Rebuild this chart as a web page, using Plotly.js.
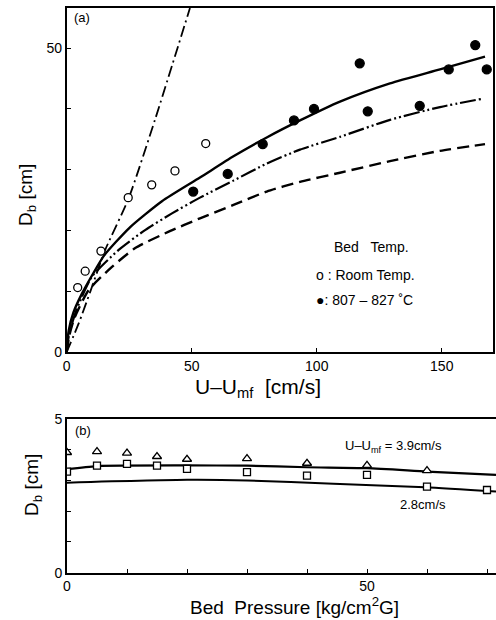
<!DOCTYPE html>
<html>
<head>
<meta charset="utf-8">
<script src="https://cdn.plot.ly/plotly-3.0.1.min.js"></script>
<style>
  html, body { margin: 0; padding: 0; background: #fff; }
  #chart { width: 496px; height: 620px; }
</style>
</head>
<body>
<div id="chart"></div>
<script>
// (a) bubble diameter vs excess gas velocity
const roomTempU  = [4.4, 7.4, 13.7, 24.6, 34.0, 43.3, 55.6];
const roomTempDb = [10.6, 13.3, 16.6, 25.4, 27.5, 29.8, 34.3];

const hotU  = [50.6, 64.4, 78.4, 90.9, 98.9, 117.2, 120.4, 141.2, 152.8, 163.4, 168.0];
const hotDb = [26.4, 29.3, 34.2, 38.1, 40.0, 47.5, 39.6, 40.5, 46.5, 50.5, 46.5];

// correlation curves
const solidU  = [0, 0.8, 2.7, 6.1, 10.7, 15.0, 25.0, 38.1, 53.3, 66.7, 80.0, 93.3, 109.3, 129.3, 149.3, 167.3];
const solidDb = [0, 3.5, 6.5, 9.6, 13.0, 15.9, 20.4, 24.8, 28.7, 32.2, 35.3, 38.1, 41.2, 44.2, 46.5, 48.6];

const dashDotDotU  = [0, 1.0, 4.0, 10.1, 20.8, 31.5, 42.1, 53.3, 66.7, 80.0, 93.3, 109.3, 129.3, 149.3, 166.7];
const dashDotDotDb = [0, 3.0, 7.0, 12.4, 16.8, 20.1, 22.8, 25.4, 28.2, 31.0, 33.3, 35.4, 38.2, 40.3, 41.7];

const dashedU  = [0, 1.0, 3.0, 8.8, 18.1, 27.4, 40.8, 53.3, 66.7, 80.0, 93.3, 109.3, 129.3, 149.3, 167.3];
const dashedDb = [0, 2.6, 5.5, 10.2, 14.0, 17.1, 19.8, 22.0, 24.2, 26.4, 28.0, 29.5, 31.4, 33.1, 34.2];

const steepU  = [0, 4.8, 9.4, 15.4, 24.7, 35.3, 49.3];
const steepDb = [0, 4.7, 9.9, 16.8, 25.2, 38.2, 56.6];

// (b) bubble diameter vs bed pressure
const triP  = [0, 5, 10, 15, 20, 30, 40, 50, 60];
const triDb = [3.91, 3.94, 3.89, 3.78, 3.69, 3.71, 3.56, 3.49, 3.32];

const sqP  = [0, 5, 10, 15, 20, 30, 40, 50, 60, 70];
const sqDb = [3.29, 3.48, 3.54, 3.48, 3.38, 3.27, 3.16, 3.18, 2.80, 2.69];

const upperP  = [0, 5, 20, 30, 40, 50, 60, 71.5];
const upperDb = [3.37, 3.47, 3.49, 3.48, 3.43, 3.40, 3.29, 3.18];

const lowerP  = [0, 20, 30, 44.4, 59.7, 71.5];
const lowerDb = [2.93, 3.02, 3.00, 2.89, 2.78, 2.64];

// labelled ticks and unlabelled (minor) tick marks
const aXTicks = [0, 50, 100, 150];
const aYTicks = [0, 50];
const aYMinor = [10, 20, 30, 40];
const bXTicks = [0, 50];
const bXMinor = [10, 20, 30, 40, 60, 70];
const bYTicks = [0, 5];
const bYMinor = [1, 2, 3, 4];

const FONT = 'Liberation Sans Narrow, Liberation Sans, Arial, sans-serif';
const W = 496, H = 620;
const px = x => x / W;
const py = y => (H - y) / H;

const lineTrace = (x, y, dash, width, xa, ya) => ({
  x, y, type: 'scatter', mode: 'lines', xaxis: xa, yaxis: ya,
  line: { color: '#000', width, dash, shape: 'spline', smoothing: 0.6 },
  hoverinfo: 'skip', showlegend: false
});
const markerTrace = (x, y, symbol, fill, size, xa, ya) => ({
  x, y, type: 'scatter', mode: 'markers', xaxis: xa, yaxis: ya,
  marker: { symbol, size, color: fill, line: { color: '#000', width: 1.3 } },
  showlegend: false
});

const data = [
  lineTrace(steepU, steepDb, '11px,4px,2px,4px', 1.8, 'x', 'y'),
  lineTrace(dashedU, dashedDb, '12px,6px', 2.4, 'x', 'y'),
  lineTrace(dashDotDotU, dashDotDotDb, '16px,3px,2px,3px,2px,3px', 2.2, 'x', 'y'),
  lineTrace(solidU, solidDb, 'solid', 2.4, 'x', 'y'),
  markerTrace(roomTempU, roomTempDb, 'circle', '#fff', 8, 'x', 'y'),
  markerTrace(hotU, hotDb, 'circle', '#000', 9, 'x', 'y'),

  lineTrace(upperP, upperDb, 'solid', 2.2, 'x2', 'y2'),
  lineTrace(lowerP, lowerDb, 'solid', 2.0, 'x2', 'y2'),
  markerTrace(triP, triDb, 'triangle-up', '#fff', 8, 'x2', 'y2'),
  markerTrace(sqP, sqDb, 'square', '#fff', 7, 'x2', 'y2')
];

const axisBase = {
  showgrid: false, zeroline: false, showline: true, mirror: true,
  linecolor: '#000', linewidth: 1.6,
  ticks: 'inside', ticklen: 4, tickwidth: 1, tickcolor: '#000',
  tickfont: { family: FONT, size: 14, color: '#000' },
  tickmode: 'array',
  fixedrange: true
};
const minorTicks = vals => ({ tickmode: 'array', tickvals: vals, ticks: 'inside', ticklen: 4, tickwidth: 1, tickcolor: '#000', showgrid: false });

const layout = {
  width: W, height: H,
  margin: { l: 0, r: 0, t: 0, b: 0 },
  paper_bgcolor: '#fff', plot_bgcolor: '#fff',
  font: { family: FONT, size: 13, color: '#000' },
  showlegend: false,
  hovermode: false,
  xaxis: Object.assign({}, axisBase, {
    domain: [px(66.7), px(493)], range: [0, 170.5],
    tickvals: aXTicks, anchor: 'y'
  }),
  yaxis: Object.assign({}, axisBase, {
    domain: [py(352), py(8)], range: [0, 56.6],
    tickvals: aYTicks, minor: minorTicks(aYMinor), anchor: 'x'
  }),
  xaxis2: Object.assign({}, axisBase, {
    domain: [px(67), 1], range: [0, 71.5],
    tickvals: bXTicks, minor: minorTicks(bXMinor), anchor: 'y2'
  }),
  yaxis2: Object.assign({}, axisBase, {
    domain: [py(572.7), py(419)], range: [0, 5],
    tickvals: bYTicks, minor: minorTicks(bYMinor), anchor: 'x2'
  }),
  annotations: [
    { text: '(a)', x: px(72), y: py(17), xanchor: 'left', yanchor: 'middle', font: { size: 13 } },
    { text: '(b)', x: px(73), y: py(430), xanchor: 'left', yanchor: 'middle', font: { size: 13 } },
    { text: 'Bed&#160;&#160;&#160;Temp.', x: px(332), y: py(247), xanchor: 'left', yanchor: 'middle', font: { size: 14 } },
    { text: 'o : Room Temp.', x: px(314), y: py(275), xanchor: 'left', yanchor: 'middle', font: { size: 14 } },
    { text: '\u25CF: 807 \u2013 827 \u02DAC', x: px(314), y: py(300), xanchor: 'left', yanchor: 'middle', font: { size: 14 } },
    { text: 'U\u2013U<sub>mf</sub>  [cm/s]', x: px(258), y: py(388), xanchor: 'center', yanchor: 'middle', font: { size: 21 } },
    { text: 'D<sub>b</sub> [cm]', x: px(27), y: py(195), xanchor: 'center', yanchor: 'middle', textangle: -90, font: { size: 19 } },
    { text: 'D<sub>b</sub> [cm]', x: px(33), y: py(485), xanchor: 'center', yanchor: 'middle', textangle: -90, font: { size: 19 } },
    { text: 'Bed  Pressure [kg/cm<sup>2</sup>G]', x: px(294), y: py(606), xanchor: 'center', yanchor: 'middle', font: { size: 19 } },
    { text: 'U\u2013U<sub>mf</sub> = 3.9cm/s', x: px(343), y: py(446), xanchor: 'left', yanchor: 'middle', font: { size: 13 } },
    { text: '2.8cm/s', x: px(398), y: py(504), xanchor: 'left', yanchor: 'middle', font: { size: 13 } }
  ].map(a => Object.assign({ xref: 'paper', yref: 'paper', showarrow: false }, a))
};

Plotly.newPlot('chart', data, layout, { displayModeBar: false, responsive: false });
</script>
</body>
</html>
